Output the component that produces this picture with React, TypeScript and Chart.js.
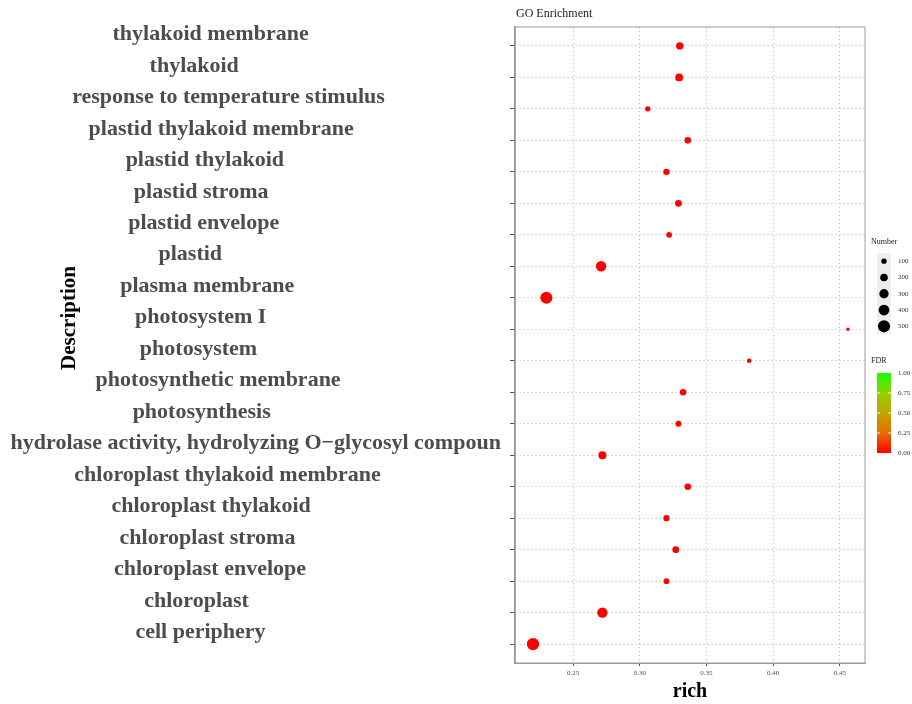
import React, { useEffect, useRef } from 'react';
import { Chart, registerables } from 'chart.js';

Chart.register(...registerables);

// GO terms, listed top to bottom
const terms = [
  'thylakoid membrane',
  'thylakoid',
  'response to temperature stimulus',
  'plastid thylakoid membrane',
  'plastid thylakoid',
  'plastid stroma',
  'plastid envelope',
  'plastid',
  'plasma membrane',
  'photosystem I',
  'photosystem',
  'photosynthetic membrane',
  'photosynthesis',
  'hydrolase activity, hydrolyzing O\u2212glycosyl compoun',
  'chloroplast thylakoid membrane',
  'chloroplast thylakoid',
  'chloroplast stroma',
  'chloroplast envelope',
  'chloroplast',
  'cell periphery',
];

// rich factor of each term
const richFactor = [
  0.330, 0.3295, 0.306, 0.336, 0.320, 0.329, 0.322, 0.271, 0.230, 0.456,
  0.382, 0.3325, 0.329, 0.272, 0.336, 0.320, 0.327, 0.320, 0.272, 0.220,
];

// number of genes in each term
const geneCount = [
  188, 209, 100, 149, 140, 159, 115, 371, 494, 40,
  73, 149, 123, 220, 149, 132, 159, 115, 371, 527,
];

// adjusted p-value of each term
const fdr = [
  0.0, 0.0, 0.0, 0.0, 0.0, 0.0, 0.0, 0.0, 0.0, 0.0,
  0.0, 0.0, 0.0, 0.0, 0.0, 0.0, 0.0, 0.0, 0.0, 0.0,
];

const richTicks = [0.25, 0.3, 0.35, 0.4, 0.45];
const numberBreaks = [100, 200, 300, 400, 500];
const fdrBreaks = [1.0, 0.75, 0.5, 0.25, 0.0];

const SERIF = '"Liberation Serif", "Times New Roman", serif';

// red (low FDR) to green (high FDR)
const fdrStops: [number, [number, number, number]][] = [
  [0.0, [255, 0, 0]],
  [0.25, [230, 110, 0]],
  [0.5, [192, 165, 0]],
  [0.75, [145, 210, 0]],
  [1.0, [20, 255, 0]],
];

function fdrColor(v: number): string {
  const t = Math.max(0, Math.min(1, v));
  for (let i = 1; i < fdrStops.length; i++) {
    const [p1, c1] = fdrStops[i];
    const [p0, c0] = fdrStops[i - 1];
    if (t <= p1) {
      const f = (t - p0) / (p1 - p0);
      const c = c0.map((a, k) => Math.round(a + (c1[k] - a) * f));
      return `rgb(${c[0]},${c[1]},${c[2]})`;
    }
  }
  return 'rgb(20,255,0)';
}

function radiusFor(n: number): number {
  return 0.27 * Math.sqrt(n);
}

const decorPlugin = {
  id: 'goDecor',
  afterDatasetsDraw(chart: any) {
    const { ctx, chartArea } = chart;
    ctx.save();
    ctx.strokeStyle = '#9a9a9a';
    ctx.lineWidth = 1;
    ctx.strokeRect(chartArea.left, chartArea.top, chartArea.right - chartArea.left, chartArea.bottom - chartArea.top);
    ctx.restore();
  },
  afterDraw(chart: any) {
    const { ctx, chartArea } = chart;
    const yScale = chart.scales.y;
    ctx.save();

    // term labels: each hangs from a shared anchor, about a third of the way into the label
    ctx.fillStyle = '#4d4d4d';
    ctx.font = `bold 22px ${SERIF}`;
    ctx.textAlign = 'left';
    ctx.textBaseline = 'middle';
    const anchorX = chartArea.left - 334.5;
    terms.forEach((t, i) => {
      const w = ctx.measureText(t).width;
      ctx.fillText(t, anchorX - 0.3465 * w, yScale.getPixelForValue(i) - 11.5);
    });

    // title
    ctx.fillStyle = '#1a1a1a';
    ctx.font = `12px ${SERIF}`;
    ctx.fillText('GO Enrichment', chartArea.left + 1, 14);

    // y axis title
    ctx.save();
    ctx.translate(chartArea.left - 445, (chartArea.top + chartArea.bottom) / 2 - 27);
    ctx.rotate(-Math.PI / 2);
    ctx.fillStyle = '#000';
    ctx.font = `bold 21px ${SERIF}`;
    ctx.textAlign = 'center';
    ctx.fillText('Description', 0, 0);
    ctx.restore();

    // size legend
    const lx = chartArea.right + 12;
    const kw = 14;
    ctx.fillStyle = '#1a1a1a';
    ctx.font = `8px ${SERIF}`;
    ctx.textAlign = 'left';
    ctx.fillText('Number', chartArea.right + 6, 242);
    const keyTop = 253;
    const keyH = 16.3;
    ctx.fillStyle = '#eeeeee';
    ctx.fillRect(lx, keyTop, kw, keyH * numberBreaks.length);
    numberBreaks.forEach((n, i) => {
      const cy = keyTop + keyH * (i + 0.5);
      ctx.fillStyle = '#000';
      ctx.beginPath();
      ctx.arc(lx + kw / 2, cy, radiusFor(n), 0, Math.PI * 2);
      ctx.fill();
      ctx.fillStyle = '#333';
      ctx.font = `7px ${SERIF}`;
      ctx.fillText(String(n), lx + kw + 7, cy);
    });

    // FDR colour bar
    ctx.fillStyle = '#1a1a1a';
    ctx.font = `8px ${SERIF}`;
    ctx.fillText('FDR', chartArea.right + 6, 361);
    const barTop = 373;
    const barBottom = 453;
    const grad = ctx.createLinearGradient(0, barBottom, 0, barTop);
    fdrStops.forEach(([p]) => grad.addColorStop(p, fdrColor(p)));
    ctx.fillStyle = grad;
    ctx.fillRect(lx, barTop, kw, barBottom - barTop);
    fdrBreaks.forEach((b) => {
      const cy = barBottom - (barBottom - barTop) * b;
      if (b > 0 && b < 1) {
        ctx.strokeStyle = 'rgba(255,255,255,0.9)';
        ctx.lineWidth = 1;
        ctx.beginPath();
        ctx.moveTo(lx, cy);
        ctx.lineTo(lx + 3, cy);
        ctx.moveTo(lx + kw - 3, cy);
        ctx.lineTo(lx + kw, cy);
        ctx.stroke();
      }
      ctx.fillStyle = '#333';
      ctx.font = `7px ${SERIF}`;
      ctx.fillText(b.toFixed(2), lx + kw + 7, cy);
    });

    ctx.restore();
  },
};

export default function App() {
  const canvasRef = useRef<HTMLCanvasElement | null>(null);

  useEffect(() => {
    const canvas = canvasRef.current;
    if (!canvas) return;
    const gridColor = '#bfbfbf';
    const chart = new Chart(canvas, {
      type: 'scatter',
      data: {
        datasets: [
          {
            data: terms.map((_, i) => ({ x: richFactor[i], y: i })),
            pointRadius: (c: any) => radiusFor(geneCount[c.dataIndex]),
            pointHoverRadius: (c: any) => radiusFor(geneCount[c.dataIndex]),
            pointBackgroundColor: (c: any) => fdrColor(fdr[c.dataIndex]),
            pointBorderWidth: 0,
          },
        ],
      },
      options: {
        animation: false,
        responsive: false,
        devicePixelRatio: 1,
        layout: { padding: { top: 27, right: 47, left: 10, bottom: 0 } },
        plugins: {
          legend: { display: false },
          tooltip: { enabled: false },
          title: { display: false },
        },
        scales: {
          x: {
            type: 'linear',
            min: 0.2065,
            max: 0.4688,
            afterBuildTicks: (s: any) => {
              s.ticks = richTicks.map((v) => ({ value: v }));
            },
            afterFit: (s: any) => {
              s.height = 41;
            },
            ticks: {
              callback: (v: any) => Number(v).toFixed(2),
              font: { family: SERIF, size: 7 },
              color: '#4d4d4d',
              padding: 3,
            },
            grid: { color: gridColor, tickColor: '#555', tickLength: 3, lineWidth: 1 },
            border: { display: true, color: '#9a9a9a', width: 1, dash: [1.2, 2.8] },
            title: {
              display: true,
              text: 'rich',
              color: '#000',
              font: { family: SERIF, size: 20, weight: 'bold' },
              padding: { top: 0, bottom: 0 },
            },
          },
          y: {
            type: 'linear',
            reverse: true,
            min: -0.6,
            max: terms.length - 0.4,
            afterBuildTicks: (s: any) => {
              s.ticks = terms.map((_, i) => ({ value: i }));
            },
            afterFit: (s: any) => {
              s.width = 505;
            },
            ticks: { display: false },
            grid: { color: gridColor, tickColor: '#555', tickLength: 5, lineWidth: 1 },
            border: { display: true, color: '#8a8a8a', width: 1.5, dash: [1.2, 2.8] },
          },
        },
      },
      plugins: [decorPlugin],
    } as any);
    return () => chart.destroy();
  }, []);

  return (
    <div style={{ position: 'absolute', left: 0, top: 0, width: 912, height: 704, background: '#fff' }}>
      <canvas ref={canvasRef} width={912} height={704} style={{ display: 'block' }} />
    </div>
  );
}
